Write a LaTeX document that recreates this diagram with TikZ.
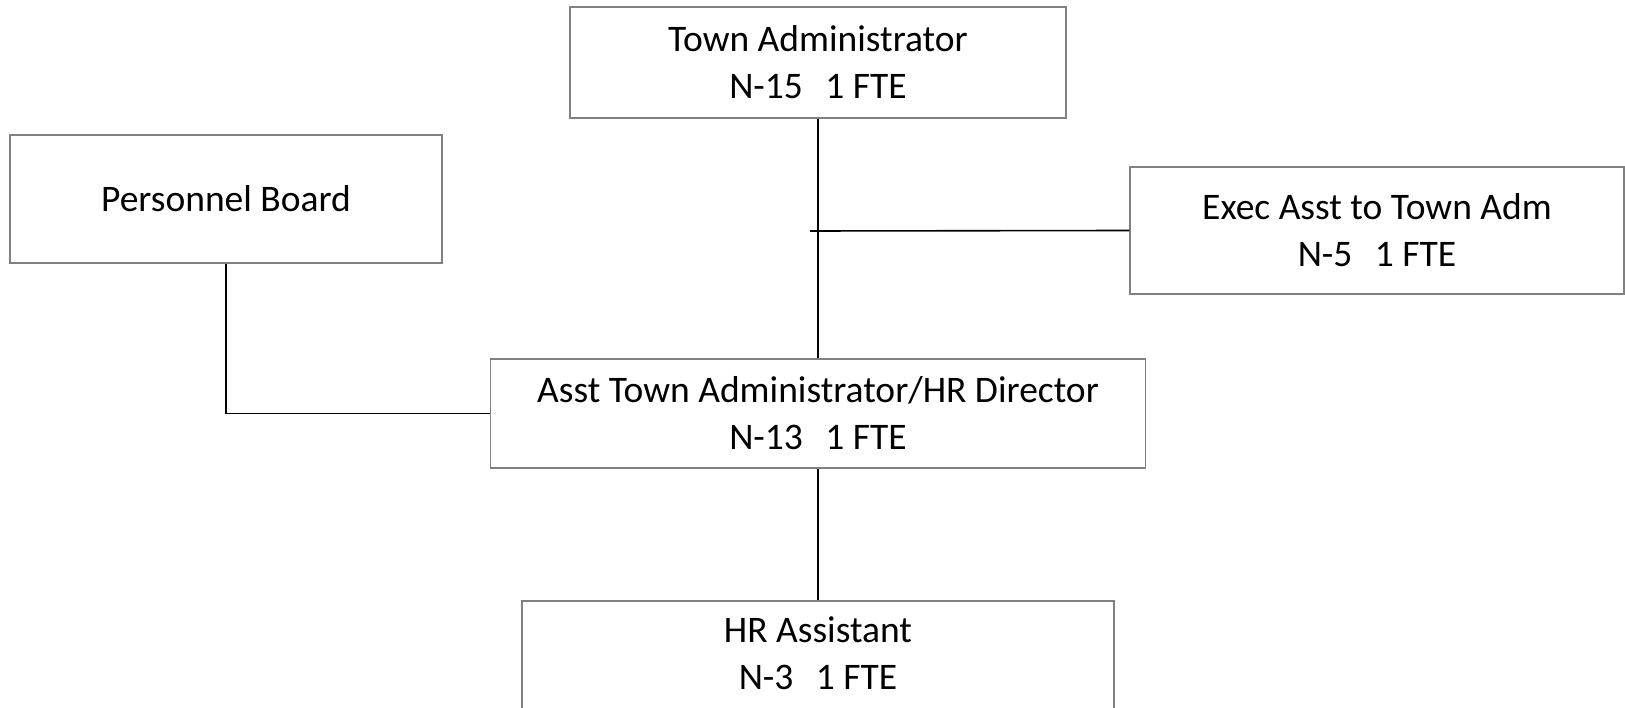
\documentclass[tikz,border=0pt]{standalone}
\usepackage{fontspec}
\setmainfont{Carlito}
\definecolor{boxgray}{RGB}{128,128,128}
\newcommand{\fte}{\hspace{0.6em}}
\begin{document}
\begin{tikzpicture}[x=1pt, y=-1pt,
      box/.style = {draw=boxgray, line width=1.3pt, align=center, inner sep=0pt,
                    font=\fontsize{37.5}{47}\selectfont},
      link/.style = {draw=black, line width=1.6pt}]
    \useasboundingbox (0,0) rectangle (1625,708);
    % nodes
    \node[box, minimum width=496pt, minimum height=111pt] (townadm) at (818,62.5)
        {Town Administrator\\N-15\fte 1 FTE};
    \node[box, minimum width=432pt, minimum height=128pt] (board) at (226,199)
        {Personnel Board};
    \node[box, minimum width=494pt, minimum height=127pt] (execasst) at (1377,230.5)
        {Exec Asst to Town Adm\\N-5\fte 1 FTE};
    \node[box, minimum width=655pt, minimum height=109pt] (hrdir) at (818,413.5)
        {Asst Town Administrator/HR Director\\N-13\fte 1 FTE};
    \node[box, minimum width=592pt, minimum height=120pt, text depth=15pt] (hrasst) at (818,661)
        {HR Assistant\\N-3\fte 1 FTE};
    \coordinate (tick) at (810,231);

    % edges
    \draw[link] (townadm) -- (hrdir);
    \draw[link] (tick) -- (execasst.west);
    \draw[link] (board.south) |- (hrdir.west);
    \draw[link] (hrdir) -- (hrasst);
  \end{tikzpicture}
\end{document}
